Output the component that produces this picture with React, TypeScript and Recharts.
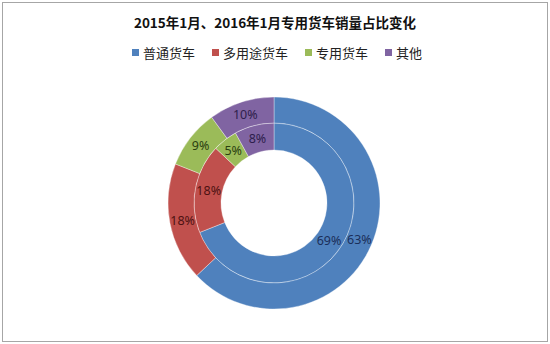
import React from "react";
import { PieChart, Pie, Cell } from "recharts";

// share of each truck type, Jan 2015 (inner ring) and Jan 2016 (outer ring)
const categories = ["普通货车", "多用途货车", "专用货车", "其他"];
const innerValues = [69, 18, 5, 8];
const outerValues = [63, 18, 9, 10];

const colors = ["#4F81BD", "#C0504D", "#9BBB59", "#8064A2"];
const labelColors = ["#1B2F5A", "#4E1212", "#2B3F10", "#2E1E4C"];

const innerData = categories.map((name, i) => ({ name, value: innerValues[i] }));
const outerData = categories.map((name, i) => ({ name, value: outerValues[i] }));

const RAD = Math.PI / 180;

const renderLabel = (props: any) => {
  const { cx, cy, midAngle, innerRadius, outerRadius, value, index } = props;
  const r = (innerRadius + outerRadius) / 2;
  const x = cx + r * Math.cos(-midAngle * RAD);
  const y = cy + r * Math.sin(-midAngle * RAD);
  return (
    <text
      x={x}
      y={y}
      fill={labelColors[index]}
      textAnchor="middle"
      dominantBaseline="central"
      fontSize={12.5}
      fontFamily="'Noto Sans', sans-serif"
    >
      {value}%
    </text>
  );
};

const App: React.FC = () => {
  return (
    <div
      style={{
        position: "absolute",
        left: 0,
        top: 0,
        width: 550,
        height: 344,
        background: "#fff",
        fontFamily: "'Noto Sans CJK SC', sans-serif",
      }}
    >
      <div
        style={{
          position: "absolute",
          left: 2,
          top: 2,
          width: 544,
          height: 338,
          border: "1px solid #a6a6a6",
        }}
      />
      <div
        style={{
          position: "absolute",
          top: 12,
          left: 0,
          width: 550,
          textAlign: "center",
          fontSize: 13.5,
          fontWeight: 700,
          color: "#111",
        }}
      >
        2015年1月、2016年1月专用货车销量占比变化
      </div>
      <div
        style={{
          position: "absolute",
          top: 43,
          left: 2,
          width: 550,
          display: "flex",
          justifyContent: "center",
          gap: 17,
          fontSize: 13,
          color: "#222",
        }}
      >
        {categories.map((c, i) => (
          <div key={c} style={{ display: "flex", alignItems: "center" }}>
            <span style={{ width: 7, height: 7, background: colors[i], marginRight: 4, display: "inline-block" }} />
            <span>{c}</span>
          </div>
        ))}
      </div>
      <PieChart
        width={550}
        height={344}
        margin={{ top: 0, right: 0, bottom: 0, left: 0 }}
        style={{ position: "absolute", left: 0, top: 0 }}
      >
        <Pie
          data={innerData}
          dataKey="value"
          cx={274}
          cy={203}
          innerRadius={53}
          outerRadius={80}
          startAngle={90}
          endAngle={-270}
          stroke="#ffffff"
          strokeWidth={0.5}
          strokeOpacity={0.7}
          label={renderLabel}
          labelLine={false}
          isAnimationActive={false}
        >
          {innerData.map((d, i) => (
            <Cell key={d.name} fill={colors[i]} />
          ))}
        </Pie>
        <Pie
          data={outerData}
          dataKey="value"
          cx={274}
          cy={203}
          innerRadius={80}
          outerRadius={106}
          startAngle={90}
          endAngle={-270}
          stroke="#ffffff"
          strokeWidth={0.5}
          strokeOpacity={0.7}
          label={renderLabel}
          labelLine={false}
          isAnimationActive={false}
        >
          {outerData.map((d, i) => (
            <Cell key={d.name} fill={colors[i]} />
          ))}
        </Pie>
      </PieChart>
    </div>
  );
};

export default App;
